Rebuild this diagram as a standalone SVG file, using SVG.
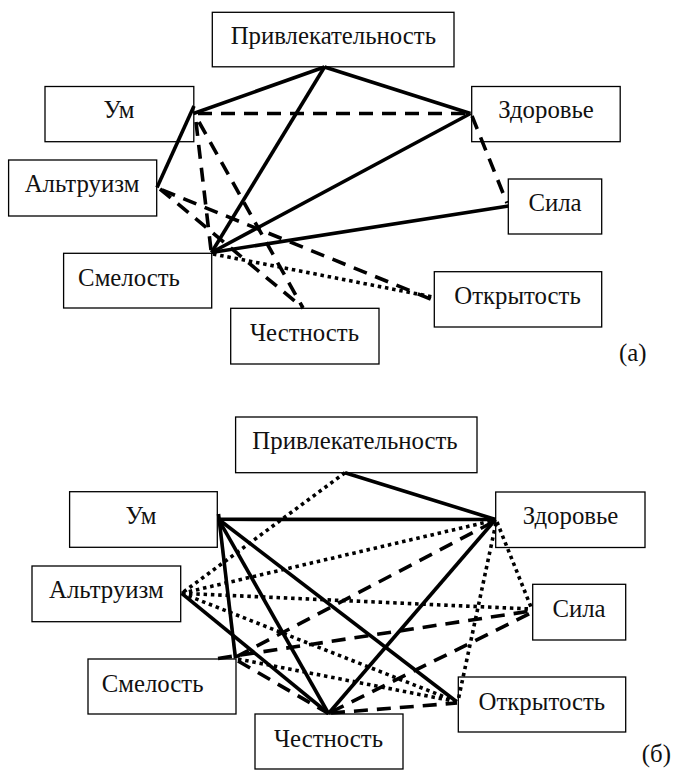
<svg xmlns="http://www.w3.org/2000/svg" width="674" height="774" viewBox="0 0 674 774">
  <style>
    .box rect { fill: #fff; stroke: #000; stroke-width: 1.3; }
    .box text, .cap { font-family: "Liberation Serif", "Times New Roman", serif; font-size: 24.8px; fill: #111; }
    .box text { text-anchor: middle; }
    .ln { stroke: #000; stroke-width: 3.6; fill: none; }
    .dashed { stroke-dasharray: 14 9; }
    .dotted { stroke-dasharray: 3.5 3.8; }
  </style>
  <rect width="674" height="774" fill="#fff"/>

  <!-- (а) nodes -->
  <g id="a-privlek" class="box"><rect x="212.3" y="12.3" width="241.7" height="54.5"/><text x="333.3" y="44.3">Привлекательность</text></g>
  <g id="a-um" class="box"><rect x="45" y="86.5" width="148.8" height="55.2"/><text x="119" y="118">Ум</text></g>
  <g id="a-zdorovie" class="box"><rect x="471.7" y="86.5" width="148.5" height="55.2"/><text x="546" y="118">Здоровье</text></g>
  <g id="a-altruizm" class="box"><rect x="8.6" y="160" width="148.1" height="56"/><text x="82" y="192">Альтруизм</text></g>
  <g id="a-sila" class="box"><rect x="508.3" y="179" width="93.4" height="55"/><text x="555" y="211">Сила</text></g>
  <g id="a-smelost" class="box"><rect x="63.6" y="253.3" width="148.1" height="54.7"/><text x="129" y="286">Смелость</text></g>
  <g id="a-otkrytost" class="box"><rect x="434.3" y="271.7" width="167.4" height="55.3"/><text x="517.5" y="304">Открытость</text></g>
  <g id="a-chestnost" class="box"><rect x="230.7" y="308.3" width="148.3" height="55.7"/><text x="304.5" y="340.5">Честность</text></g>
  <text class="cap" x="619" y="361">(а)</text>

  <!-- (б) nodes -->
  <g id="b-privlek" class="box"><rect x="235.6" y="417" width="241.4" height="55.7"/><text x="355" y="449.3">Привлекательность</text></g>
  <g id="b-um" class="box"><rect x="69.6" y="491.7" width="147.7" height="55.6"/><text x="141" y="524">Ум</text></g>
  <g id="b-zdorovie" class="box"><rect x="495.7" y="492" width="149.3" height="55.5"/><text x="570.5" y="524">Здоровье</text></g>
  <g id="b-altruizm" class="box"><rect x="32" y="566" width="148.7" height="55.7"/><text x="106.4" y="598">Альтруизм</text></g>
  <g id="b-sila" class="box"><rect x="532.7" y="584.3" width="93" height="55.7"/><text x="579" y="616.5">Сила</text></g>
  <g id="b-smelost" class="box"><rect x="88" y="659" width="148" height="55"/><text x="152.6" y="691.5">Смелость</text></g>
  <g id="b-otkrytost" class="box"><rect x="458.3" y="677" width="167.4" height="55"/><text x="541.8" y="709.5">Открытость</text></g>
  <g id="b-chestnost" class="box"><rect x="255" y="714" width="148" height="55"/><text x="328.5" y="746.5">Честность</text></g>
  <text class="cap" x="671" y="762" text-anchor="end">(б)</text>

  <!-- (а) links, drawn over the boxes -->
  <g id="links-a" class="ln">
    <line x1="324.5" y1="67" x2="193.5" y2="113.5"/>
    <line x1="324.5" y1="67" x2="470.5" y2="113.5"/>
    <line x1="324.5" y1="67" x2="211.5" y2="252.5"/>
    <line x1="194" y1="106" x2="157" y2="187.5"/>
    <line x1="470.5" y1="113.5" x2="211.5" y2="252.5"/>
    <line x1="508.5" y1="206" x2="211.5" y2="252.5"/>
    <line class="dashed" x1="198" y1="113.5" x2="470.5" y2="113.5"/>
    <line class="dashed" x1="472" y1="116" x2="507" y2="203"/>
    <line class="dashed" x1="196" y1="122" x2="211" y2="250"/>
    <line class="dashed" x1="199" y1="122" x2="303" y2="308"/>
    <line class="dashed" x1="160" y1="189" x2="303" y2="308"/>
    <line class="dashed" x1="162" y1="190" x2="433" y2="300"/>
    <line class="dotted" x1="213" y1="254" x2="433" y2="297"/>
  </g>

  <!-- (б) links, drawn over the boxes -->
  <g id="links-b" class="ln">
    <line x1="345" y1="472.7" x2="495.5" y2="519.5"/>
    <line x1="218.5" y1="519.3" x2="495.5" y2="519.5"/>
    <line x1="218.5" y1="514" x2="235.5" y2="658.5"/>
    <line x1="218.5" y1="519.3" x2="328.5" y2="713.5"/>
    <line x1="218.5" y1="519.3" x2="456.7" y2="701.7"/>
    <line x1="181.7" y1="593.3" x2="328.5" y2="713.5"/>
    <line x1="495.5" y1="519.5" x2="328.5" y2="713.5"/>
    <line class="dashed" x1="493" y1="522" x2="236.7" y2="656.7"/>
    <line class="dashed" x1="218" y1="658.5" x2="531" y2="611"/>
    <line class="dashed" x1="238" y1="661" x2="328.5" y2="713.5"/>
    <line class="dashed" x1="331" y1="713" x2="457" y2="703"/>
    <line class="dashed" x1="331" y1="712" x2="531" y2="613"/>
    <line class="dotted" x1="345" y1="472.7" x2="181.7" y2="593.3"/>
    <line class="dotted" x1="181.7" y1="593.3" x2="495.5" y2="520"/>
    <line class="dotted" x1="181.7" y1="593.3" x2="531" y2="609"/>
    <line class="dotted" x1="181.7" y1="593.3" x2="456.7" y2="701.7"/>
    <line class="dotted" x1="238" y1="659" x2="456.7" y2="701.7"/>
    <line class="dotted" x1="497" y1="522" x2="531" y2="607"/>
    <line class="dotted" x1="496" y1="523" x2="458" y2="701"/>
  </g>
</svg>
